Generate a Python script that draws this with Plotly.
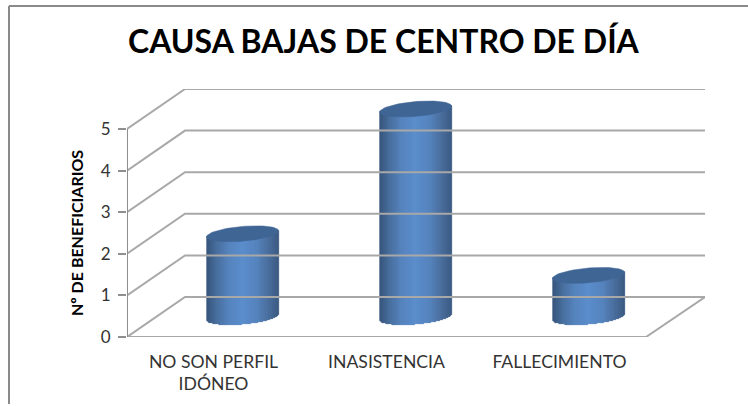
import math
import plotly.graph_objects as go

categories = ["NO SON PERFIL<br>IDÓNEO", "INASISTENCIA", "FALLECIMIENTO"]
values = [2, 5, 1]
y_ticks = [0, 1, 2, 3, 4, 5]
title_text = "CAUSA BAJAS DE CENTRO DE DÍA"
y_title = "Nº DE BENEFICIARIOS"

W, H = 748, 406
L, R, T, B = 127, 705, 89, 337
PX_X = 173.0   # pixels per category
PX_Y = 41.6    # pixels per value unit
DX = 58 / PX_X  # depth offset of the back wall
DY = 40 / PX_Y
XMAX = (R - L) / PX_X
YMAX = (B - T) / PX_Y
A = 36.0 / PX_X   # cylinder half width
BH = 7.4 / PX_Y   # ellipse half height
SLOPE = 3.0 / 36.0 * PX_X / PX_Y  # tilt, in data units
STOPS = [(0.0, (46, 77, 117)), (0.14, (64, 104, 153)), (0.30, (78, 126, 186)),
         (0.50, (85, 136, 203)), (0.70, (78, 126, 186)), (0.86, (66, 104, 153)),
         (1.0, (51, 84, 126))]
GRID = "#a8a8a8"
AXIS = "#8f8f8f"
CAP = "#3f6594"


def shade(t):
    for (a, ca), (b, cb) in zip(STOPS, STOPS[1:]):
        if t <= b:
            f = (t - a) / (b - a)
            return "rgb(%d,%d,%d)" % tuple(round(p + (q - p) * f) for p, q in zip(ca, cb))
    return "rgb(51,84,126)"


fig = go.Figure()


def line(xs, ys, color=GRID, width=2):
    fig.add_trace(go.Scatter(x=xs, y=ys, mode="lines", line=dict(color=color, width=width),
                             hoverinfo="skip", showlegend=False, cliponaxis=False))


# walls, gridlines and floor
for v in y_ticks:
    line([0, DX, XMAX], [v, v + DY, v + DY])
floor_front = 3.0
line([0, floor_front, XMAX], [0, 0, DY])
line([0, 0], [0, max(y_ticks)], color=AXIS, width=2)

# cylinders
for i, v in enumerate(values):
    cx = i + 0.5 + DX / 2
    n = 72
    sx, sbase, sh, scol = [], [], [], []
    for k in range(n):
        t = (k + 0.5) / n
        u = 2 * t - 1
        x = cx + u * A
        tilt = u * A * SLOPE  # rising to the right
        low = DY / 2 + tilt - BH * math.sqrt(1 - u * u)
        top = v + DY / 2 + tilt
        sx.append(x)
        sbase.append(low)
        sh.append(top - low)
        scol.append(shade(t))
    fig.add_trace(go.Bar(x=sx, y=sh, base=sbase, width=1.6 * A / n * 2 / 1.6,
                         marker=dict(color=scol, line=dict(width=0.6, color=scol)),
                         hoverinfo="skip", showlegend=False))
    ex, ey = [], []
    for k in range(73):
        a = 2 * math.pi * k / 72
        ex.append(cx + A * math.cos(a))
        ey.append(v + DY / 2 + A * math.cos(a) * SLOPE + BH * math.sin(a))
    fig.add_trace(go.Scatter(x=ex, y=ey, mode="lines", fill="toself", fillcolor=CAP,
                             line=dict(color=CAP, width=0.5), hoverinfo="skip", showlegend=False))

fig.update_layout(
    width=W, height=H, autosize=False, barmode="overlay", bargap=0,
    margin=dict(l=L, r=W - R, t=T, b=H - B),
    paper_bgcolor="white", plot_bgcolor="white",
    font=dict(family="Lato, Carlito, sans-serif", color="#333333"),
    xaxis=dict(range=[0, XMAX], tickmode="array", tickvals=[i + 0.5 for i in range(len(categories))],
               ticktext=categories, tickfont=dict(size=17.6, color="#333333"), ticks="", showgrid=False,
               zeroline=False, showline=False, ticklabelstandoff=12),
    yaxis=dict(range=[0, YMAX], tickmode="array", tickvals=y_ticks, ticks="outside", ticklen=8, tickwidth=2,
               tickcolor=AXIS, tickfont=dict(size=17, color="#333333"), showgrid=False, zeroline=False,
               showline=False, ticklabelstandoff=4),
    annotations=[
        dict(text="<b>%s</b>" % title_text, xref="paper", yref="paper", x=(384 - L) / (R - L),
             y=(B - 41) / (B - T), xanchor="center", yanchor="middle", showarrow=False,
             font=dict(size=32, color="black")),
        dict(text="<b>%s</b>" % y_title, xref="paper", yref="paper", x=(77 - L) / (R - L),
             y=(B - 233) / (B - T), xanchor="center", yanchor="middle", showarrow=False, textangle=-90,
             font=dict(size=16, color="black")),
    ],
    shapes=[
        dict(type="line", xref="paper", yref="paper", x0=(9 - L) / (R - L), x1=(W - L) / (R - L),
             y0=(B - 6) / (B - T), y1=(B - 6) / (B - T), line=dict(color="#8a8a8a", width=2)),
        dict(type="line", xref="paper", yref="paper", x0=(9 - L) / (R - L), x1=(9 - L) / (R - L),
             y0=(B - 6) / (B - T), y1=(B - 404) / (B - T), line=dict(color="#8a8a8a", width=2)),
    ],
)
fig.write_html("out.html", config=dict(displayModeBar=False),
               post_script="document.body.style.margin='0';document.documentElement.style.overflow='hidden';")
